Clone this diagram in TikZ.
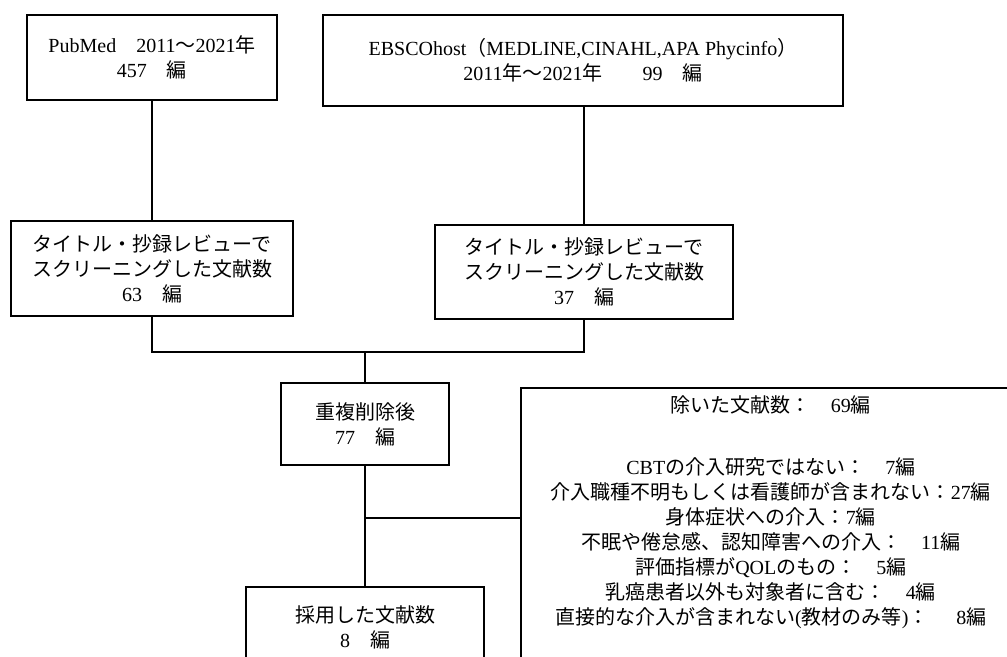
\documentclass[tikz,border=0pt]{standalone}
\usepackage{fontspec}
\setmainfont{Liberation Serif}
\newfontfamily\jp{Noto Sans CJK JP}
\newcommand\J[1]{{\jp #1}}
\begin{document}
\begin{tikzpicture}[x=0.75pt,y=-0.75pt,
  box/.style={draw,line width=1.2pt,rectangle,align=center,inner sep=0pt,
    font=\fontsize{15}{18.75}\selectfont},
  link/.style={line width=1.2pt}]
\useasboundingbox (0,0) rectangle (1007,657);
\clip (0,0) rectangle (1007,657);
\node[box,minimum width=187.5pt,minimum height=63.75pt] (pub) at (152,57.5)
  {PubMed\J{　}2011\J{～}2021\J{年}\\457\J{　編}};
\node[box,minimum width=390pt,minimum height=68.25pt] (ebsco) at (583,60.5)
  {EBSCOhost\J{（}MEDLINE,CINAHL,APA Phycinfo\J{）}\\2011\J{年～}2021\J{年　　}99\J{　編}};
\node[box,minimum width=211.5pt,minimum height=71.25pt] (scrL) at (152,268.5)
  {\J{タイトル・抄録レビューで}\\\J{スクリーニングした文献数}\\63\J{　編}};
\node[box,minimum width=223.5pt,minimum height=70.5pt] (scrR) at (584,272)
  {\J{タイトル・抄録レビューで}\\\J{スクリーニングした文献数}\\37\J{　編}};
\node[box,minimum width=126pt,minimum height=61.5pt] (dup) at (365,424)
  {\J{重複削除後}\\77\J{　編}};
\node[box,minimum width=178.5pt,minimum height=60pt] (adopt) at (365,627)
  {\J{採用した文献数}\\8\J{　編}};
\node[box,minimum width=375pt,anchor=north west,inner ysep=6pt] (excl) at (520,387)
  {\J{除いた文献数：　}69\J{編}\\[28pt]
   CBT\J{の介入研究ではない：　}7\J{編}\\
   \J{介入職種不明もしくは看護師が含まれない：}27\J{編}\\
   \J{身体症状への介入：}7\J{編}\\
   \J{不眠や倦怠感、認知障害への介入：　}11\J{編}\\
   \J{評価指標が}QOL\J{のもの：　}5\J{編}\\
   \J{乳癌患者以外も対象者に含む：　}4\J{編}\\
   \J{直接的な介入が含まれない}(\J{教材のみ等})\J{：　}\hspace{0.4em}8\J{編}\rule[-50pt]{0pt}{0pt}};
\coordinate (j1) at (365,352);
\coordinate (j2) at (365,518);
\draw[link] (ebsco.south -| scrR.north) -- (scrR.north);
\draw[link] (pub.south) -- (scrL.north);
\draw[link] (scrL.south) |- (j1) -| (scrR.south);
\draw[link] (j1) -- (dup.north);
\draw[link] (dup.south) -- (adopt.north);
\draw[link] (j2) -- (j2 -| excl.west);
\end{tikzpicture}
\end{document}
